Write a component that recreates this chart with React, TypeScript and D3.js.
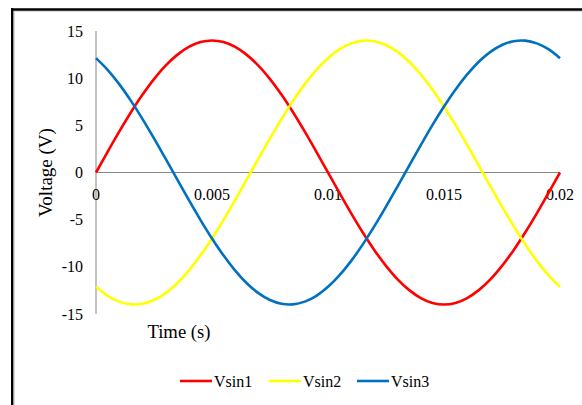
import React, { useEffect } from "react";
import * as d3 from "d3";

// Time samples (s)
const time = [
  0, 0.0005, 0.001, 0.0015, 0.002, 0.0025, 0.003, 0.0035, 0.004, 0.0045,
  0.005, 0.0055, 0.006, 0.0065, 0.007, 0.0075, 0.008, 0.0085, 0.009, 0.0095,
  0.01, 0.0105, 0.011, 0.0115, 0.012, 0.0125, 0.013, 0.0135, 0.014, 0.0145,
  0.015, 0.0155, 0.016, 0.0165, 0.017, 0.0175, 0.018, 0.0185, 0.019, 0.0195,
  0.02,
];

// Phase voltages (V)
const vsin1 = [
  0, 2.19, 4.33, 6.36, 8.23, 9.9, 11.33, 12.47, 13.31, 13.83,
  14.0, 13.83, 13.31, 12.47, 11.33, 9.9, 8.23, 6.36, 4.33, 2.19,
  0, -2.19, -4.33, -6.36, -8.23, -9.9, -11.33, -12.47, -13.31, -13.83,
  -14.0, -13.83, -13.31, -12.47, -11.33, -9.9, -8.23, -6.36, -4.33, -2.19,
  0,
];
const vsin2 = [
  -12.12, -13.07, -13.69, -13.98, -13.92, -13.52, -12.79, -11.74, -10.4, -8.81,
  -7.0, -5.02, -2.91, -0.73, 1.46, 3.62, 5.69, 7.62, 9.37, 10.88,
  12.12, 13.07, 13.69, 13.98, 13.92, 13.52, 12.79, 11.74, 10.4, 8.81,
  7.0, 5.02, 2.91, 0.73, -1.46, -3.62, -5.69, -7.62, -9.37, -10.88,
  -12.12,
];
const vsin3 = [
  12.12, 10.88, 9.37, 7.62, 5.69, 3.62, 1.46, -0.73, -2.91, -5.02,
  -7.0, -8.81, -10.4, -11.74, -12.79, -13.52, -13.92, -13.98, -13.69, -13.07,
  -12.12, -10.88, -9.37, -7.62, -5.69, -3.62, -1.46, 0.73, 2.91, 5.02,
  7.0, 8.81, 10.4, 11.74, 12.79, 13.52, 13.92, 13.98, 13.69, 13.07,
  12.12,
];

const seriesNames = ["Vsin1", "Vsin2", "Vsin3"];
const seriesColors = ["#FF0000", "#FFFF00", "#0070C0"];
const xTicks = [0, 0.005, 0.01, 0.015, 0.02];
const xTickLabels = ["0", "0.005", "0.01", "0.015", "0.02"];
const yTicks = [-15, -10, -5, 0, 5, 10, 15];

const W = 582;
const H = 405;
const FONT = "'Liberation Serif', 'Times New Roman', serif";

export default function App() {
  useEffect(() => {
    document.body.style.margin = "0";
  }, []);

  const x = d3.scaleLinear().domain([0, 0.02]).range([96, 560]);
  const y = d3.scaleLinear().domain([-15, 15]).range([314, 31]);

  const series = [vsin1, vsin2, vsin3];
  const line = d3
    .line<number>()
    .x((_, i) => x(time[i]))
    .y((d) => y(d))
    .curve(d3.curveCatmullRom);

  const legendX = [180, 269, 357];

  return (
    <svg width={W} height={H} style={{ display: "block" }}>
      <rect width={W} height={H} fill="#fff" />
      {/* chart frame */}
      <line x1={14.5} x2={14.5} y1={11} y2={H} stroke="#d9d9d9" strokeWidth={1} />
      <line x1={14} x2={W} y1={11.5} y2={11.5} stroke="#d9d9d9" strokeWidth={1} />
      <line x1={12.2} x2={12.2} y1={8.3} y2={H} stroke="#000" strokeWidth={2.4} />
      <line x1={11} x2={W} y1={9.5} y2={9.5} stroke="#000" strokeWidth={2.4} />

      {/* axes */}
      <line x1={x(0)} x2={x(0)} y1={y(15)} y2={y(-15)} stroke="#868686" strokeWidth={1} />
      <line x1={x(0)} x2={x(0.02)} y1={y(0)} y2={y(0)} stroke="#868686" strokeWidth={1} />

      {/* y tick labels */}
      {yTicks.map((t) => (
        <text
          key={t}
          x={83}
          y={y(t)}
          dy="0.35em"
          textAnchor="end"
          fontFamily={FONT}
          fontSize={16}
          fill="#000"
        >
          {String(t)}
        </text>
      ))}

      {/* x tick labels */}
      {xTicks.map((t, i) => (
        <text
          key={t}
          x={x(t)}
          y={y(0) + 22}
          dy="0.35em"
          textAnchor="middle"
          fontFamily={FONT}
          fontSize={16}
          fill="#000"
        >
          {xTickLabels[i]}
        </text>
      ))}

      {/* axis titles */}
      <text
        transform={`translate(52,${(y(15) + y(-15)) / 2}) rotate(-90)`}
        textAnchor="middle"
        fontFamily={FONT}
        fontSize={19}
        fill="#000"
      >
        Voltage (V)
      </text>
      <text
        x={179}
        y={338}
        textAnchor="middle"
        fontFamily={FONT}
        fontSize={18.7}
        fill="#000"
      >
        Time (s)
      </text>

      {/* series */}
      {series.map((s, i) => (
        <path
          key={seriesNames[i]}
          d={line(s) || ""}
          fill="none"
          stroke={seriesColors[i]}
          strokeWidth={2.6}
          strokeLinejoin="round"
        />
      ))}

      {/* legend */}
      {seriesNames.map((name, i) => (
        <g key={name}>
          <line
            x1={legendX[i]}
            x2={legendX[i] + 32}
            y1={381}
            y2={381}
            stroke={seriesColors[i]}
            strokeWidth={2.6}
          />
          <text
            x={legendX[i] + 34}
            y={381}
            dy="0.35em"
            fontFamily={FONT}
            fontSize={16}
            fill="#000"
          >
            {name}
          </text>
        </g>
      ))}
    </svg>
  );
}
